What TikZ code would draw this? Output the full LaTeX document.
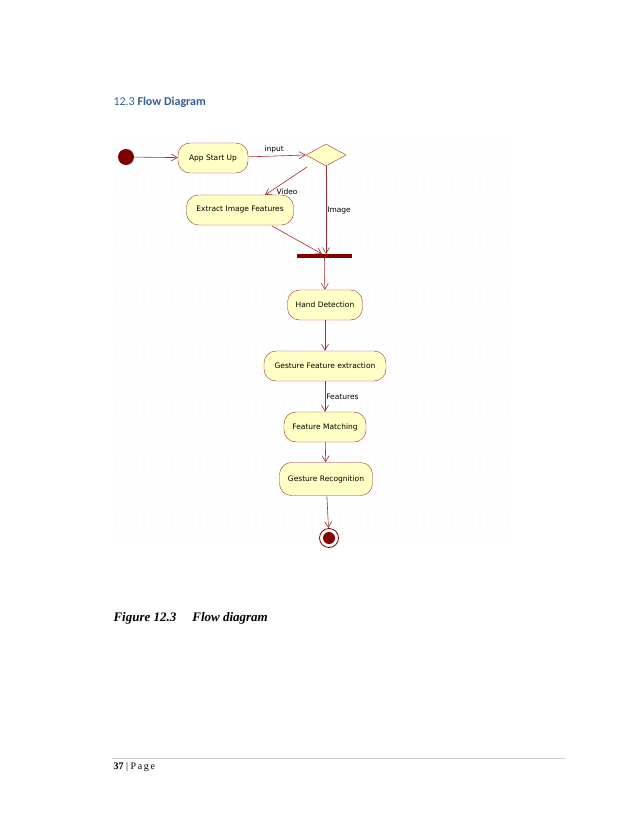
\documentclass[tikz,border=0pt]{standalone}
\usepackage{fontspec}
\setmainfont{Liberation Serif}
\newfontfamily\uml{DejaVu Sans}
\newfontfamily\headf{Carlito}
\usetikzlibrary{shapes.geometric,arrows.meta}
\definecolor{lr}{HTML}{A03030}
\definecolor{fillc}{HTML}{FFFFC6}
\definecolor{dk}{HTML}{800000}
\definecolor{hb}{HTML}{365F91}
\tikzset{
 act/.style={draw=lr,fill=fillc,rounded corners=12pt,font=\uml\fontsize{7.5}{9}\selectfont,inner sep=0pt,minimum height=30pt},
 flow/.style={draw=lr,-{Straight Barb[length=6pt,width=7pt]},line width=0.6pt},
 lbl/.style={font=\uml\fontsize{7.5}{9}\selectfont,inner sep=1pt}
}
\begin{document}
\begin{tikzpicture}[x=1pt,y=-1pt]
\useasboundingbox (0,0) rectangle (638,826);
\fill[white] (0,0) rectangle (638,826);
\node[anchor=west,text=hb,font=\headf\fontsize{12}{14}\selectfont] (head) at (110,102) {12.3 \textbf{Flow Diagram}};
% dotted grid
\foreach \x in {116,123,...,510} \foreach \y in {142,149,...,546} \fill[gray!45] (\x,\y) circle (0.35);
\fill[dk] (126,157) circle (8) coordinate (start);
\node[circle,minimum size=16pt,inner sep=0pt] (st) at (126,157) {};
\node[act,minimum width=70pt] (app) at (213,158) {App Start Up};
\node[diamond,draw=lr,fill=fillc,minimum width=40pt,minimum height=22pt,inner sep=0pt,aspect=1.8] (dec) at (326,155) {};
\node[act,minimum width=107pt] (ext) at (240,210) {Extract Image Features};
\fill[dk] (297,254) rectangle (352,258);
\node[minimum width=55pt,minimum height=4pt,inner sep=0pt] (bar) at (324.5,256) {};
\node[act,minimum width=75pt] (hand) at (325,305) {Hand Detection};
\node[act,minimum width=122pt] (gfe) at (325,366) {Gesture Feature extraction};
\node[act,minimum width=82pt] (fm) at (325,427) {Feature Matching};
\node[act,minimum width=93pt,minimum height=33pt] (gr) at (326,479) {Gesture Recognition};
\node[circle,draw=dk,line width=0.8pt,minimum size=19pt,inner sep=0pt,fill=white] (end) at (329,538) {};
\fill[dk] (329,538) circle (6);
\draw[flow] (st) -- (app);
\draw[flow] (app) -- node[lbl,above,pos=0.45,yshift=2pt] {input} (dec.west);
\draw[flow] (307,167) -- node[lbl,right,pos=0.9,xshift=6pt] {Video} (265,195);
\draw[flow] (dec.south) -- node[lbl,right,pos=0.5] {Image} (326,254);
\draw[flow] (272,226) -- (322,254);
\draw[flow] (bar) -- (hand);
\draw[flow] (hand) -- (gfe);
\draw[flow] (gfe) -- node[lbl,right,pos=0.5] {Features} (fm);
\draw[flow] (fm) -- (gr);
\draw[flow] (gr) -- (end);
\node[anchor=west,font=\fontsize{13}{15}\selectfont\bfseries\itshape] (cap) at (110,618) {Figure 12.3\hspace{16pt}Flow diagram};
\draw[gray!40,line width=0.5pt] (112,758) -- (565,758);
\node[anchor=west,font=\fontsize{10}{12}\selectfont] (pg) at (110,767) {\textbf{37} | P\,a\,g\,e};
\end{tikzpicture}
\end{document}
